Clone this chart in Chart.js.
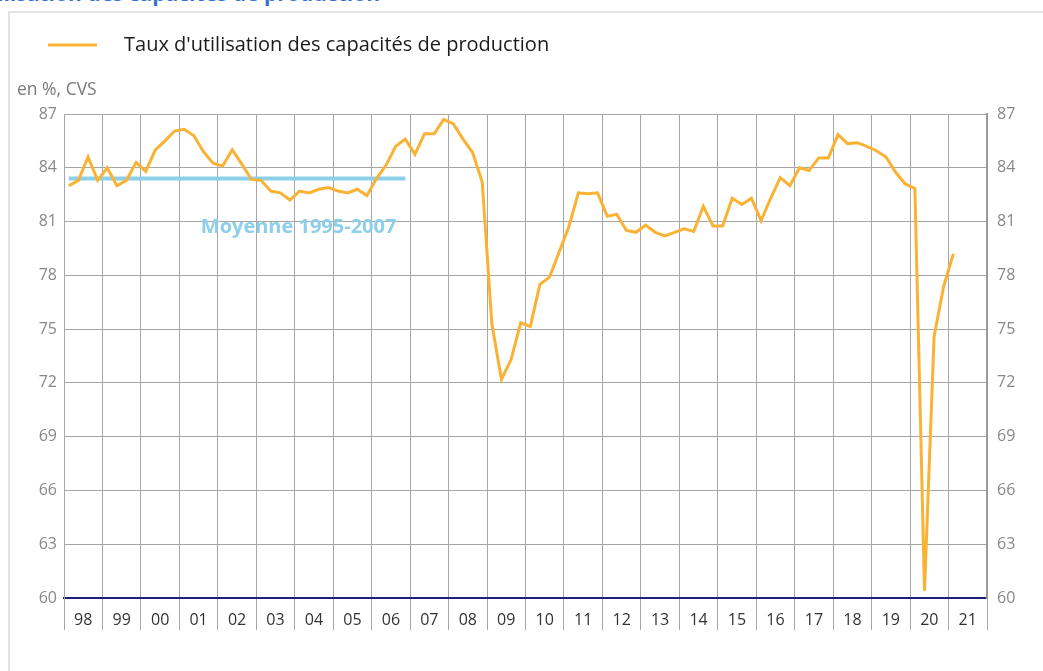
<!DOCTYPE html>
<html>
<head>
<meta charset="utf-8">
<script src="https://cdn.jsdelivr.net/npm/chart.js@4.4.1/dist/chart.umd.min.js"></script>
<style>
  html, body { margin: 0; padding: 0; background: #fff; }
  body { width: 1043px; height: 671px; position: relative; overflow: hidden; font-family: "Open Sans", sans-serif; }
  #cadre { position: absolute; left: 8px; top: 11px; width: 1100px; height: 700px; border-top: 2px solid #e2e2e2; border-left: 2px solid #e2e2e2; }
  #titre { position: absolute; right: 663px; top: -17px; white-space: nowrap; color: #3370d4; font-weight: bold; font-size: 21px; line-height: 21px; }
  #zone { position: absolute; left: 0; top: 0; }
</style>
</head>
<body>
<div id="titre">Taux d'utilisation des capacités de production</div>
<div id="cadre"></div>
<canvas id="zone" width="1043" height="671"></canvas>
<script>
// années (une case = 4 trimestres)
const annees = ['98','99','00','01','02','03','04','05','06','07','08','09','10','11','12','13','14','15','16','17','18','19','20','21'];

// taux trimestriels, 1998T1 -> 2021T1
const taux = [
  83.0, 83.3, 84.6, 83.3,   // 98
  84.0, 83.0, 83.3, 84.3,   // 99
  83.8, 85.0, 85.5, 86.05,  // 00
  86.15, 85.8, 84.9, 84.25, // 01
  84.1, 85.0, 84.2, 83.35,  // 02
  83.3, 82.7, 82.6, 82.2,   // 03
  82.7, 82.6, 82.8, 82.9,   // 04
  82.7, 82.6, 82.8, 82.45,  // 05
  83.4, 84.15, 85.2, 85.6,  // 06
  84.75, 85.9, 85.9, 86.7,  // 07
  86.45, 85.6, 84.85, 83.2, // 08
  75.3, 72.2, 73.3, 75.35,  // 09
  75.15, 77.5, 77.9, 79.3,  // 10
  80.7, 82.6, 82.55, 82.6,  // 11
  81.3, 81.4, 80.5, 80.4,   // 12
  80.8, 80.4, 80.2, 80.4,   // 13
  80.6, 80.45, 81.85, 80.75,// 14
  80.75, 82.3, 81.95, 82.3, // 15
  81.05, 82.3, 83.45, 83.0, // 16
  84.0, 83.85, 84.55, 84.55,// 17
  85.85, 85.35, 85.4, 85.2, // 18
  84.95, 84.6, 83.75, 83.1, // 19
  82.85, 60.4, 74.6, 77.4,  // 20
  79.2                      // 21
];

// moyenne 1995-2007, tracee de 1998T1 a 2006T4
const moyenne = 83.4;
const moyenneDebut = 0;
const moyenneFin = 35;

const yTicks = [60, 63, 66, 69, 72, 75, 78, 81, 84, 87];

const orange = '#f9b234';
const bleuClair = '#8dcfe9';
const gris = '#a6a6a6';

const pointsTaux = taux.map((v, i) => ({ x: i + 0.5, y: v }));
const pointsMoy = [
  { x: moyenneDebut + 0.5, y: moyenne },
  { x: moyenneFin + 0.5, y: moyenne }
];

const textes = {
  id: 'textes',
  afterDraw(chart) {
    const c = chart.ctx;
    c.save();
    // légende
    c.strokeStyle = orange;
    c.lineWidth = 3;
    c.beginPath();
    c.moveTo(48, 45);
    c.lineTo(97, 45);
    c.stroke();
    c.fillStyle = '#1b1b1b';
    c.font = '20px "Open Sans"';
    c.textBaseline = 'middle';
    c.fillText("Taux d'utilisation des capacités de production", 124, 45);
    // unité
    c.fillStyle = '#7a7a7a';
    c.font = '17.5px "Open Sans"';
    c.fillText('en %, CVS', 17, 90);
    // étiquette moyenne
    const xs = chart.scales.x, ys = chart.scales.y;
    c.fillStyle = bleuClair;
    c.font = 'bold 20px "Open Sans"';
    c.textAlign = 'center';
    c.fillText('Moyenne 1995-2007', xs.getPixelForValue(24.4), ys.getPixelForValue(80.7));
    c.restore();
  }
};

new Chart(document.getElementById('zone'), {
  type: 'line',
  data: {
    datasets: [
      {
        label: 'Moyenne 1995-2007',
        data: pointsMoy,
        borderColor: bleuClair,
        borderWidth: 4,
        pointRadius: 0,
        order: 2
      },
      {
        label: "Taux d'utilisation des capacités de production",
        data: pointsTaux,
        borderColor: orange,
        borderWidth: 3,
        pointRadius: 0,
        tension: 0,
        order: 1
      }
    ]
  },
  options: {
    responsive: false,
    animation: false,
    layout: { padding: { top: 114, left: 0, right: 0, bottom: 0 } },
    plugins: { legend: { display: false }, tooltip: { enabled: false } },
    scales: {
      x: {
        type: 'linear',
        min: 0,
        max: annees.length * 4,
        afterFit(s) { s.height = 73; },
        border: { display: true, color: '#1c2178', width: 2 },
        grid: {
          color: ctx => ctx.tick && ctx.tick.value % 4 === 0 ? gris : 'transparent',
          tickColor: ctx => ctx.tick && ctx.tick.value % 4 === 0 ? gris : 'transparent',
          tickLength: 32,
          lineWidth: 1
        },
        ticks: {
          stepSize: 2,
          autoSkip: false,
          maxRotation: 0,
          padding: -19,
          color: '#333',
          font: { family: 'Open Sans', size: 16 },
          callback: v => (v % 4 === 2 ? annees[(v - 2) / 4] : '')
        }
      },
      y: {
        position: 'left',
        min: 60,
        max: 87,
        afterBuildTicks(s) { s.ticks = yTicks.map(v => ({ value: v })); },
        afterFit(s) { s.width = 64; },
        border: { display: true, color: gris, width: 1 },
        grid: {
          color: ctx => ctx.tick && ctx.tick.value === 60 ? '#1c2178' : gris,
          lineWidth: ctx => ctx.tick && ctx.tick.value === 60 ? 2 : 1,
          drawTicks: false
        },
        ticks: {
          padding: 7,
          color: '#888',
          font: { family: 'Open Sans', size: 16 }
        }
      },
      y2: {
        position: 'right',
        min: 60,
        max: 87,
        afterBuildTicks(s) { s.ticks = yTicks.map(v => ({ value: v })); },
        afterFit(s) { s.width = 56; },
        border: { display: true, color: '#9a9a9a', width: 2 },
        grid: { drawOnChartArea: false, drawTicks: false },
        ticks: {
          padding: 10,
          color: '#888',
          font: { family: 'Open Sans', size: 16 }
        }
      }
    }
  },
  plugins: [textes]
});
</script>
</body>
</html>
